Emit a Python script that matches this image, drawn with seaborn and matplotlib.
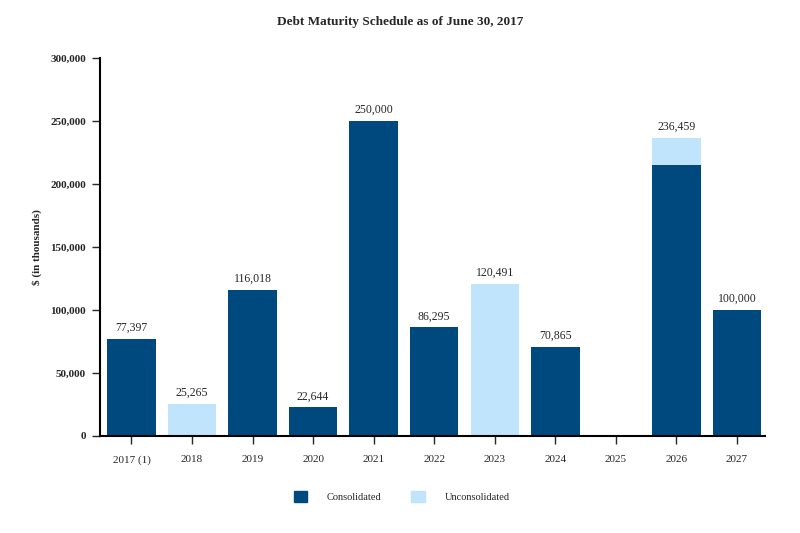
import pandas as pd
import matplotlib.pyplot as plt
import seaborn as sns
from matplotlib.patches import Patch

## Debt maturity schedule, stacked consolidated / unconsolidated bars

years = ["2017 (1)", "2018", "2019", "2020", "2021", "2022", "2023", "2024", "2025", "2026", "2027"]
consolidated = [77397, 0, 116018, 22644, 250000, 86295, 0, 70865, 0, 215000, 100000]
unconsolidated = [0, 25265, 0, 0, 0, 0, 120491, 0, 0, 21459, 0]
totals = [c + u for c, u in zip(consolidated, unconsolidated)]

dark = "#00497E"
light = "#C0E4FB"

df = pd.DataFrame({"year": years, "Consolidated": consolidated, "total": totals})

sns.set_style("white")
plt.rcParams["font.family"] = ["Liberation Serif", "DejaVu Serif"]

fig = plt.figure(figsize=(8, 5.33), dpi=100)
ax = fig.add_axes([0.125, 0.182, 0.831, 0.709])

# total first (light), consolidated drawn over it (dark)
sns.barplot(data=df, x="year", y="total", color=light, width=0.8, saturation=1, linewidth=0, ax=ax)
sns.barplot(data=df, x="year", y="Consolidated", color=dark, width=0.8, saturation=1, linewidth=0, ax=ax)

for i, t in enumerate(totals):
    if t > 0:
        ax.text(i, t + 4000, f"{t:,}", ha="center", va="bottom", fontsize=8.5)

ax.set_xlim(-0.52, 10.46)
ax.set_ylim(0, 300000)
ax.set_yticks(range(0, 300001, 50000))
ax.set_yticklabels([f"{v:,}" for v in range(0, 300001, 50000)], fontweight="bold", fontsize=8)
ax.tick_params(axis="x", labelsize=8, length=6, width=1, direction="out", bottom=True, pad=8)
ax.tick_params(axis="y", length=6, width=1, direction="out", left=True, pad=4)
sns.despine(ax=ax)
for s in ["left", "bottom"]:
    ax.spines[s].set_color("black")
    ax.spines[s].set_linewidth(1.5)

ax.set_xlabel("")
ax.set_ylabel("$ (in thousands)", fontweight="bold", fontsize=8, labelpad=6)
fig.suptitle("Debt Maturity Schedule as of June 30, 2017", fontweight="bold", fontsize=9.5, y=0.97)

h = [Patch(color=dark), Patch(color=light)]
fig.legend(h, ["Consolidated", "Unconsolidated"], ncol=2, loc="center", bbox_to_anchor=(0.502, 0.068),
           frameon=False, fontsize=7.5, handlelength=1.3, handleheight=1.3,
           handletextpad=1.9, columnspacing=2.8)

fig.savefig("out.png", dpi=100)
